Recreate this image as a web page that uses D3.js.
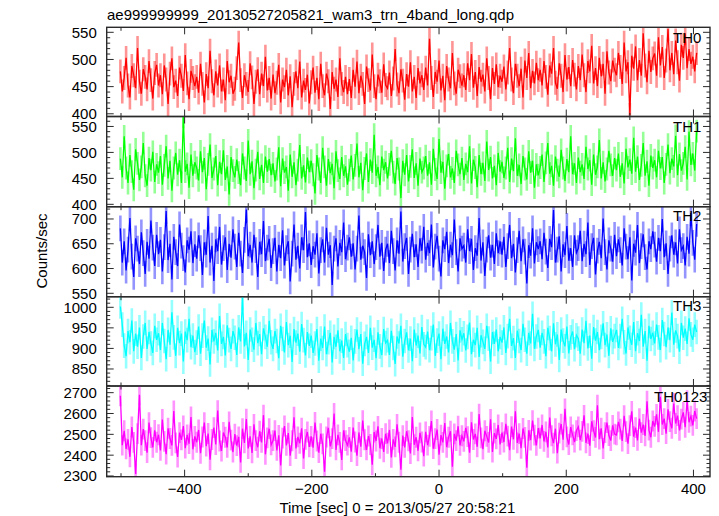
<!DOCTYPE html>
<html><head><meta charset="utf-8">
<script src="https://cdn.jsdelivr.net/npm/d3@7"></script>
<style>body{margin:0;background:#fff}svg{display:block}</style>
</head><body>
<svg id="c" width="719" height="516"></svg>
<script>
// ---- data ----
const timeStart = -501, timeStep = 3;
const th0 = [
478,441,466,503,452,430,488,471,447,521,459,437,482,468,445,497,462,428,475,490,
452,471,436,489,463,418,474,502,449,461,433,485,470,442,508,456,427,479,466,451,
468,439,492,455,421,473,447,516,460,434,478,452,489,441,463,425,497,458,470,437,
446,484,531,462,429,471,455,440,493,467,418,459,482,436,474,451,505,443,466,428,
472,438,457,490,421,463,449,481,434,469,412,455,478,447,496,430,461,444,472,419,
458,485,439,466,427,492,451,434,474,460,409,477,446,463,431,502,455,440,468,436,
464,429,481,450,496,438,470,455,418,487,462,443,509,451,427,472,460,439,491,453,
447,476,433,465,519,454,438,482,461,426,473,450,495,441,468,429,484,456,471,444,
485,452,538,466,431,477,459,498,443,470,425,488,463,447,512,456,437,481,469,452,
471,444,493,462,510,448,477,433,486,459,472,441,502,466,427,484,455,491,449,470,
459,487,445,476,521,463,438,492,470,451,483,430,498,466,512,447,479,456,494,462,
481,452,497,468,435,489,474,521,457,446,493,470,440,508,463,486,451,499,472,445,
488,462,509,471,440,497,478,525,456,484,451,503,469,492,437,515,476,460,498,481,
471,512,486,455,531,478,495,398,507,483,524,462,499,470,548,489,458,516,477,502,
511,470,541,489,523,466,498,556,480,512,473,535,495,461,527,503,548,484,519,492,
505,478,512];
const th1 = [
488,452,531,470,441,495,463,428,506,479,447,472,518,455,436,489,466,501,443,477,
461,493,438,475,512,450,484,426,470,499,457,485,441,568,463,478,432,496,455,481,
470,446,502,462,489,429,477,515,451,468,493,437,482,458,504,447,473,419,491,465,
452,486,461,437,498,470,445,523,458,483,431,466,501,449,476,441,492,463,487,456,
479,444,468,510,435,488,461,472,426,496,453,481,437,466,514,450,475,442,490,462,
484,457,421,495,468,441,509,472,436,487,460,478,431,502,465,449,491,455,473,438,
466,494,448,475,517,452,480,427,469,498,443,486,461,534,455,472,437,492,466,481,
450,477,503,462,439,489,468,412,484,457,495,444,473,506,451,479,436,488,462,470,
493,455,481,438,507,467,449,526,461,482,430,474,497,452,469,441,503,476,458,489,
447,478,462,512,440,486,471,433,495,458,480,445,521,466,491,450,474,437,499,463,
482,451,470,509,443,488,464,527,455,476,439,493,468,448,502,461,484,432,477,456,
471,496,443,480,518,459,474,436,492,466,453,505,470,445,487,462,531,458,479,441,
490,462,477,449,511,468,485,438,496,457,472,524,450,481,444,468,503,476,455,489,
466,498,453,479,440,507,471,486,459,528,463,492,447,475,518,455,483,436,494,470,
485,452,503,469,491,441,477,515,460,488,473,532,456,497,465,479,511,448,540,476,
498,465,541];
const th2 = [
681,612,655,596,638,702,624,583,661,640,609,673,631,589,654,620,697,642,605,668,
629,658,594,643,716,617,650,578,664,633,605,689,646,621,592,657,638,675,611,649,
620,667,641,587,653,628,706,612,646,575,659,635,684,608,641,663,597,650,622,679,
644,603,672,630,591,658,719,625,648,612,668,637,583,654,629,696,615,642,660,601,
635,662,594,648,621,677,606,641,655,574,630,689,618,646,600,663,637,714,623,651,
607,645,628,671,590,637,659,612,682,628,647,567,640,661,604,652,633,693,619,642,
663,624,651,598,640,707,618,646,633,581,669,627,655,609,643,688,624,652,595,638,
650,611,676,635,596,657,630,715,614,645,662,589,638,670,623,649,603,661,636,684,
618,652,631,689,602,644,666,620,584,657,639,674,611,648,627,699,633,594,661,640,
646,612,679,635,660,597,641,626,702,616,653,585,638,667,622,648,609,671,631,655,
628,664,603,645,688,621,650,592,637,676,615,659,634,570,647,626,681,610,653,639,
655,619,672,634,601,660,643,718,612,638,665,594,649,627,686,616,641,603,667,632,
641,676,615,650,629,693,607,645,662,588,636,654,621,701,633,598,657,640,614,668,
625,659,637,606,681,644,619,663,576,650,632,688,611,645,669,623,598,655,639,675,
648,614,662,635,700,623,651,589,640,667,628,653,610,679,637,645,606,664,630,712,
652,618,690];
const th3 = [
1002,958,907,881,942,915,968,893,936,904,951,877,929,962,899,940,912,889,955,921,
937,896,962,918,874,945,909,988,927,882,950,913,936,868,941,920,972,903,931,891,
914,953,887,931,968,902,924,861,945,917,938,895,979,911,928,883,956,920,899,942,
926,884,951,917,1023,905,938,872,946,921,897,962,913,935,886,949,928,904,967,915,
899,942,918,876,955,923,890,964,908,931,867,947,914,936,892,959,920,883,940,906,
931,889,912,947,870,924,901,953,886,915,938,866,928,904,944,893,919,877,935,908,
892,926,871,917,946,898,935,863,911,928,889,950,902,921,876,939,905,884,947,913,
920,884,943,901,862,929,912,955,880,918,939,895,924,869,946,907,931,888,952,910,
903,941,896,925,958,882,919,936,874,948,911,929,890,962,917,897,935,871,944,922,
937,895,928,963,886,921,908,950,879,932,916,899,955,924,868,940,911,946,893,928,
914,951,889,930,972,906,925,877,943,918,896,960,921,887,938,912,984,899,929,945,
902,938,917,881,950,925,893,961,910,934,872,946,919,905,953,888,927,941,898,932,
924,887,946,913,967,900,931,875,952,919,940,896,928,961,908,934,882,949,916,930,
945,901,930,972,915,888,951,926,909,964,893,937,918,982,904,942,870,955,923,938,
912,958,927,896,969,935,903,951,920,987,909,944,930,892,962,926,948,911,973,934,
921,958,940];
const th0123 = [
2685,2448,2517,2430,2476,2392,2535,2461,2310,2503,2690,2448,2525,2470,2412,2556,2484,2437,2519,2462,
2498,2423,2571,2466,2405,2529,2480,2447,2612,2459,2391,2508,2473,2540,2434,2497,2455,2583,2428,2490,
2462,2521,2409,2487,2556,2443,2504,2378,2475,2532,2451,2614,2468,2420,2509,2486,2437,2560,2472,2415,
2501,2446,2488,2365,2527,2459,2573,2432,2490,2411,2548,2470,2438,2515,2461,2592,2404,2483,2527,2449,
2470,2518,2423,2495,2351,2482,2540,2447,2506,2398,2469,2582,2432,2488,2457,2529,2384,2476,2511,2440,
2490,2436,2557,2468,2412,2503,2454,2320,2487,2531,2442,2479,2600,2425,2497,2461,2377,2519,2470,2448,
2485,2417,2532,2463,2398,2509,2441,2566,2474,2425,2492,2451,2354,2511,2468,2538,2433,2480,2416,2503,
2457,2521,2389,2476,2440,2548,2462,2330,2494,2437,2515,2469,2408,2583,2450,2486,2421,2507,2463,2395,
2512,2448,2490,2564,2431,2479,2523,2402,2496,2461,2554,2438,2486,2515,2345,2502,2470,2539,2447,2493,
2466,2531,2489,2412,2558,2475,2502,2440,2597,2483,2429,2517,2490,2461,2572,2415,2506,2478,2545,2452,
2508,2463,2550,2491,2424,2537,2476,2611,2459,2503,2433,2528,2485,2340,2519,2472,2566,2496,2447,2530,
2481,2545,2466,2512,2437,2580,2493,2458,2527,2410,2506,2549,2474,2622,2488,2451,2535,2497,2463,2518,
2536,2472,2514,2591,2459,2503,2446,2562,2518,2485,2640,2477,2529,2432,2508,2556,2494,2470,2543,2501,
2497,2560,2525,2468,2589,2513,2455,2542,2610,2489,2532,2471,2575,2508,2547,2493,2659,2520,2486,2564,
2538,2596,2512,2680,2547,2575,2503,2620,2561,2529,2648,2552,2590,2519,2573,2605,2534,2662,2558,2587,
2543,2612,2575];

const panelNames = ["TH0","TH1","TH2","TH3","TH0123"];
const seriesList = [th0, th1, th2, th3, th0123];
const errHalf = [22, 22, 26, 30, 50];
const yDomains = [[395, 559.2],[395.4, 569.2],[543.1, 724.8],[808.6, 1025.8],[2296.6, 2732]];
const yMajorTicks = [[400,450,500,550],[400,450,500,550],[550,600,650,700],[850,900,950,1000],[2300,2400,2500,2600,2700]];
const yMinorStep = [10,10,10,10,20];
const xDomain = [-522.5, 426];
const xMajorTicks = [-400,-200,0,200,400];
const xMinorTicks = [-500,-300,-100,100,300];
const titleText = "ae999999999_20130527205821_wam3_trn_4band_long.qdp";
const xLabelText = "Time [sec] 0 = 2013/05/27 20:58:21";
const yLabelText = "Counts/sec";
const colors = ["#ff0000","#00ff00","#0000ff","#00ffff","#ff00ff"];

// ---- layout ----
const svg = d3.select("#c");
const left = 106.7, right = 710;
const bounds = [27.3, 116.5, 206.7, 296.7, 386, 476.7];
const labelPos = [[673,43],[673,131.5],[673,221],[673,311],[654,401.5]];
const font = "'Liberation Sans', Arial, Helvetica, sans-serif";
const axisColor = "#2a2a2a";

const x = d3.scaleLinear().domain(xDomain).range([left, right]);
const fmt = v => v < 0 ? "\u2212" + Math.abs(v) : String(v);

const defs = svg.append("defs");

panelNames.forEach((name, i) => {
  const top = bounds[i], bot = bounds[i+1];
  const y = d3.scaleLinear().domain(yDomains[i]).range([bot, top]);
  const data = seriesList[i].map((v, k) => ({t: timeStart + k*timeStep, v}));
  const e = errHalf[i];
  const g = svg.append("g");
  const clipId = "clip" + i;
  defs.append("clipPath").attr("id", clipId).append("rect")
    .attr("x", left).attr("y", top).attr("width", right-left).attr("height", bot-top);
  const plot = g.append("g").attr("clip-path", `url(#${clipId})`);
  // error bars
  plot.append("g").selectAll("line").data(data).join("line")
    .attr("x1", d => x(d.t)).attr("x2", d => x(d.t))
    .attr("y1", d => y(d.v - e)).attr("y2", d => y(d.v + e))
    .attr("stroke", colors[i]).attr("stroke-opacity", 0.42).attr("stroke-width", 2.6);
  // line
  plot.append("path").datum(data)
    .attr("d", d3.line().x(d => x(d.t)).y(d => y(d.v)))
    .attr("fill", "none").attr("stroke", colors[i]).attr("stroke-width", 1.3);

  // frame
  g.append("rect").attr("x", left).attr("y", top).attr("width", right-left).attr("height", bot-top)
    .attr("fill", "none").attr("stroke", axisColor).attr("stroke-width", 1.4);

  // y ticks (left & right)
  const [d0, d1] = yDomains[i];
  const minor = d3.range(Math.ceil(d0 / yMinorStep[i]) * yMinorStep[i], d1, yMinorStep[i]);
  minor.forEach(v => {
    const isMajor = yMajorTicks[i].includes(v);
    const len = isMajor ? 7 : 3.5;
    g.append("line").attr("x1", left).attr("x2", left + len).attr("y1", y(v)).attr("y2", y(v))
      .attr("stroke", axisColor).attr("stroke-width", 1);
    g.append("line").attr("x1", right).attr("x2", right - len).attr("y1", y(v)).attr("y2", y(v))
      .attr("stroke", axisColor).attr("stroke-width", 1);
  });
  g.selectAll("text.yt").data(yMajorTicks[i]).join("text")
    .attr("x", 96.8).attr("y", d => y(d)).attr("dy", "0.36em")
    .attr("text-anchor", "end").attr("font-family", font).attr("font-size", 15)
    .attr("fill", "#000").text(d => fmt(d));

  // x ticks (top & bottom of each panel)
  xMajorTicks.concat(xMinorTicks).forEach(t => {
    const len = xMajorTicks.includes(t) ? 7 : 3.5;
    g.append("line").attr("x1", x(t)).attr("x2", x(t)).attr("y1", top).attr("y2", top + len)
      .attr("stroke", axisColor).attr("stroke-width", 1);
    g.append("line").attr("x1", x(t)).attr("x2", x(t)).attr("y1", bot).attr("y2", bot - len)
      .attr("stroke", axisColor).attr("stroke-width", 1);
  });

  // panel label
  g.append("text").attr("x", labelPos[i][0]).attr("y", labelPos[i][1])
    .attr("font-family", font).attr("font-size", 15).attr("fill", "#000").text(name);

  if (i === panelNames.length - 1) {
    svg.append("g").selectAll("text").data(xMajorTicks).join("text")
      .attr("x", d => x(d)).attr("y", 494)
      .attr("text-anchor", "middle").attr("font-family", font).attr("font-size", 15)
      .attr("fill", "#000").text(d => fmt(d));
  }
});

svg.append("text").attr("x", 107).attr("y", 19.5).attr("font-family", font).attr("font-size", 15)
  .attr("fill", "#000").text(titleText);
svg.append("text").attr("x", (left + right) / 2 - 11).attr("y", 512.5).attr("text-anchor", "middle")
  .attr("font-family", font).attr("font-size", 15).attr("fill", "#000").text(xLabelText);
svg.append("text").attr("transform", "translate(46.5,251) rotate(-90)").attr("text-anchor", "middle")
  .attr("font-family", font).attr("font-size", 15).attr("fill", "#000").text(yLabelText);
</script>
</body></html>
